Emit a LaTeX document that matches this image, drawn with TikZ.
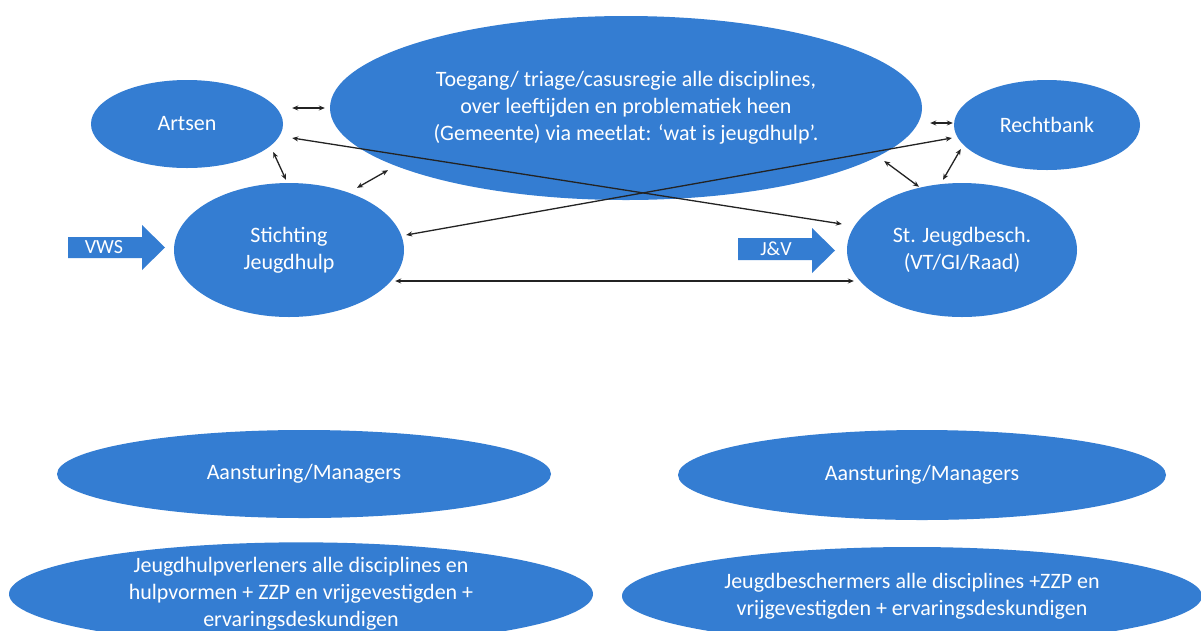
\documentclass[tikz,border=0pt]{standalone}
\usepackage{fontspec}
\setmainfont{Carlito}
\usetikzlibrary{shapes.geometric,arrows.meta}
\definecolor{bl}{RGB}{52,125,210}
\definecolor{ln}{RGB}{35,35,35}
\begin{document}
\begin{tikzpicture}[x=1pt,y=1pt,
  ell/.style={ellipse,fill=bl,draw=none,inner sep=0pt,text=white,align=center,
    font=\fontsize{22}{27}\selectfont},
  conn/.style={{Stealth[length=6pt,width=5pt]}-{Stealth[length=6pt,width=5pt]},
    draw=ln,line width=1.3pt},
  bigarrow/.style={fill=bl},
  arrtext/.style={text=white,inner sep=0pt,font=\fontsize{20}{22}\selectfont}]
\useasboundingbox (0,0) rectangle (1201,-630);
\fill[white] (0,0) rectangle (1201,-630);
\clip (0,0) rectangle (1201,-630);

% top row
\node[ell,minimum width=592pt,minimum height=184pt] (toegang) at (626,-108)
  {Toegang/ triage/casusregie alle disciplines,\\over leeftijden en problematiek heen\\(Gemeente) via meetlat: ‘wat is jeugdhulp’.};
\node[ell,minimum width=192pt,minimum height=88pt] (artsen) at (187,-124) {Artsen};
\node[ell,minimum width=186pt,minimum height=90pt] (rechtbank) at (1047,-125) {Rechtbank};
\node[ell,minimum width=230pt,minimum height=134pt] (stichting) at (289,-250) {Stichting\\Jeugdhulp};
\node[ell,minimum width=230pt,minimum height=134pt] (jeugdbesch) at (962,-250) {St. Jeugdbesch.\\(VT/GI/Raad)};

% block arrows
\fill[bigarrow] (68,-237) -- (142,-237) -- (142,-225) -- (165,-247.5) -- (142,-270) -- (142,-258) -- (68,-258) -- cycle;
\node[arrtext] (vws) at (104,-247.5) {VWS};
\fill[bigarrow] (738,-238) -- (812,-238) -- (812,-228) -- (835,-250.5) -- (812,-273) -- (812,-260) -- (738,-260) -- cycle;
\node[arrtext] (jv) at (776,-249) {J\&V};

% bottom
\node[ell,minimum width=494pt,minimum height=88pt] (aanL) at (304,-474) {Aansturing/Managers};
\node[ell,minimum width=488pt,minimum height=90pt] (aanR) at (922,-475) {Aansturing/Managers};
\node[ell,minimum width=584pt,minimum height=100pt] (botL) at (301,-594)
  {Jeugdhulpverleners alle disciplines en\\hulpvormen + ZZP en vrijgevestigden +\\ervaringsdeskundigen};
\node[ell,minimum width=580pt,minimum height=98pt] (botR) at (912,-596)
  {Jeugdbeschermers alle disciplines +ZZP en\\vrijgevestigden + ervaringsdeskundigen};

% connectors
\draw[conn] ([shift={(9,16)}]artsen.east) -- ([xshift=-5pt]toegang.west);
\draw[conn] ([shift={(9,-14)}]artsen.east) -- ([shift={(-5,26)}]jeugdbesch.west);
\draw[conn] ([shift={(-10,-28)}]artsen.east) -- ([shift={(-3,3)}]stichting.north);
\draw[conn] ([shift={(68,-5)}]stichting.north) -- ([shift={(-238,30)}]toegang.south);
\draw[conn] ([shift={(2,15)}]stichting.east) -- ([shift={(-2,-13)}]rechtbank.west);
\draw[conn] ([shift={(-9,-31)}]stichting.east) -- ([shift={(7,-31)}]jeugdbesch.west);
\draw[conn] ([shift={(8,-15)}]toegang.east) -- ([shift={(-1,2)}]rechtbank.west);
\draw[conn] ([shift={(-38,-53)}]toegang.east) -- ([shift={(-43,-4)}]jeugdbesch.north);
\draw[conn] ([shift={(7,-24)}]rechtbank.west) -- ([shift={(-19,3)}]jeugdbesch.north);
\end{tikzpicture}
\end{document}
